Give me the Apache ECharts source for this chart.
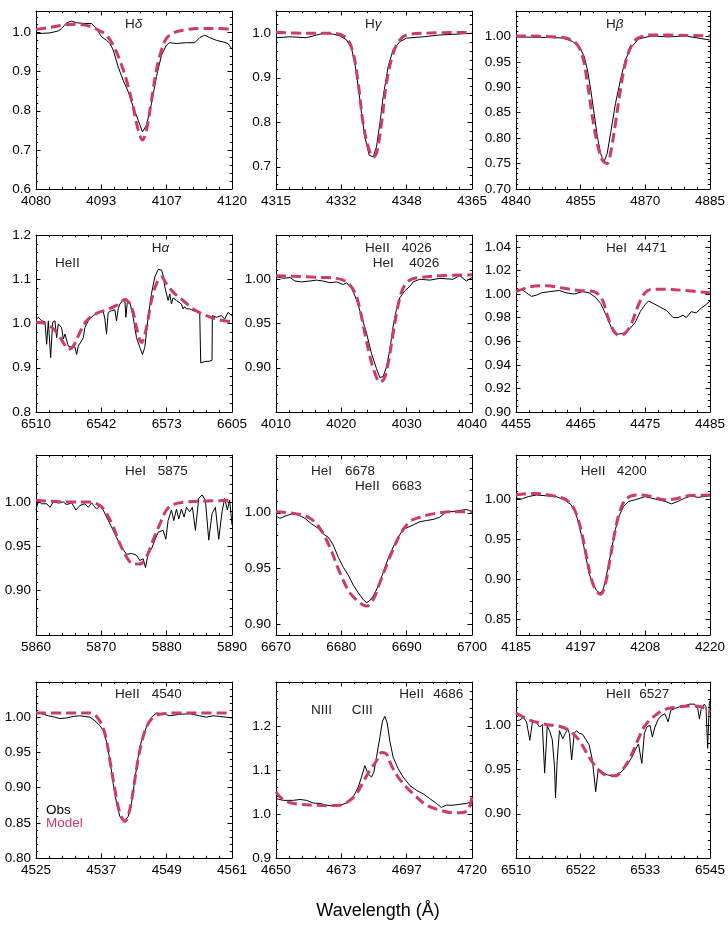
<!DOCTYPE html>
<html><head><meta charset="utf-8">
<script src="https://cdn.jsdelivr.net/npm/echarts@6/dist/echarts.min.js"></script>
<style>html,body{margin:0;padding:0;background:#fff}#c{width:728px;height:950px}</style>
</head><body><div id="c"></div>
<script>
// ---------------- DATA (wavelength in Å, normalized flux) ----------------
const obsHd = [[4080.0,0.997],[4082.85,0.999],[4084.55,1.004],[4085.23,1.010],[4086.25,1.025],[4087.27,1.029],[4088.29,1.025],[4089.98,1.023],[4091.34,1.023],[4092.36,1.010],[4093.38,0.989],[4094.40,0.980],[4095.08,0.972],[4095.76,0.955],[4096.77,0.912],[4097.79,0.878],[4098.81,0.849],[4099.83,0.810],[4100.85,0.776],[4101.73,0.746],[4102.55,0.763],[4103.57,0.819],[4104.58,0.887],[4105.60,0.942],[4106.62,0.968],[4107.30,0.974],[4108.66,0.972],[4110.70,0.974],[4112.39,0.974],[4113.41,0.987],[4114.43,0.993],[4115.45,0.987],[4116.81,0.980],[4118.17,0.976],[4119.18,0.972],[4120.0,0.957]];
const modHd = [[4080.0,1.008],[4082.85,1.013],[4086.25,1.020],[4088.29,1.021],[4091.0,1.016],[4093.04,1.004],[4094.40,0.993],[4095.76,0.968],[4097.11,0.929],[4098.47,0.878],[4099.83,0.810],[4100.85,0.751],[4101.73,0.725],[4102.55,0.751],[4103.57,0.827],[4104.58,0.904],[4105.60,0.955],[4106.62,0.985],[4107.98,0.999],[4110.02,1.006],[4113.41,1.010],[4116.81,1.010],[4120.0,1.009]];

const obsHg = [[4315.0,0.990],[4318.57,0.992],[4322.81,0.990],[4325.36,0.996],[4327.05,1.000],[4329.60,0.998],[4331.30,0.994],[4333.00,0.985],[4334.27,0.966],[4335.12,0.932],[4335.97,0.880],[4336.82,0.820],[4337.67,0.767],[4338.77,0.726],[4339.79,0.722],[4340.64,0.745],[4341.49,0.797],[4342.33,0.857],[4343.61,0.925],[4344.88,0.963],[4346.58,0.981],[4348.28,0.989],[4352.52,0.992],[4356.77,0.996],[4361.01,0.998],[4365.0,1.000]];
const modHg = [[4315.0,1.002],[4322.81,1.000],[4329.60,1.000],[4333.00,0.989],[4334.69,0.955],[4335.97,0.888],[4337.24,0.797],[4338.51,0.745],[4339.79,0.722],[4340.64,0.730],[4341.91,0.797],[4343.18,0.888],[4344.88,0.955],[4346.58,0.985],[4348.28,0.996],[4352.52,1.000],[4365.0,1.002]];

const obsHb = [[4840.0,0.999],[4847.03,0.998],[4850.85,0.997],[4853.14,0.990],[4854.67,0.980],[4855.81,0.961],[4856.58,0.934],[4857.34,0.895],[4858.11,0.849],[4858.87,0.803],[4859.63,0.770],[4860.40,0.753],[4861.16,0.770],[4861.93,0.809],[4863.07,0.868],[4864.22,0.914],[4865.36,0.954],[4866.89,0.980],[4868.42,0.995],[4871.47,1.001],[4875.29,0.999],[4879.11,1.001],[4885.0,0.993]];
const modHb = [[4840.0,1.001],[4850.85,0.998],[4853.90,0.987],[4855.43,0.961],[4856.58,0.908],[4857.72,0.842],[4858.87,0.789],[4860.02,0.757],[4861.16,0.750],[4861.93,0.770],[4863.07,0.829],[4864.22,0.895],[4865.36,0.947],[4866.89,0.984],[4868.42,0.997],[4871.47,1.003],[4885.0,1.001]];

const obsHa = [[6510.0,1.010],[6511.13,1.014],[6512.74,1.006],[6514.35,1.004],[6515.16,0.953],[6515.97,1.006],[6517.10,0.923],[6518.06,1.003],[6519.19,1.006],[6520.0,0.968],[6520.81,0.999],[6522.42,0.991],[6523.23,0.965],[6524.03,0.976],[6525.65,0.949],[6527.26,0.946],[6528.87,0.947],[6529.68,0.930],[6530.48,0.949],[6532.10,0.961],[6532.90,0.968],[6533.71,0.991],[6535.32,1.006],[6537.74,1.018],[6540.97,1.025],[6542.58,1.028],[6543.39,1.010],[6544.19,0.976],[6545.0,1.025],[6546.61,1.029],[6548.23,1.031],[6549.03,1.006],[6549.84,1.033],[6550.65,1.044],[6551.94,1.051],[6553.06,1.054],[6553.55,1.014],[6554.35,1.052],[6555.48,1.048],[6557.10,1.014],[6558.71,0.968],[6560.32,0.946],[6561.61,0.930],[6562.74,0.946],[6564.35,1.014],[6565.97,1.067],[6567.58,1.105],[6569.19,1.122],[6570.81,1.121],[6571.61,1.109],[6572.42,1.083],[6573.23,1.079],[6574.03,1.052],[6574.84,1.067],[6575.65,1.044],[6576.45,1.058],[6578.06,1.052],[6580.48,1.044],[6581.29,1.033],[6582.10,1.038],[6582.90,1.033],[6584.52,1.033],[6586.13,1.029],[6589.35,1.025],[6589.84,0.911],[6591.77,0.914],[6594.19,0.915],[6595.32,0.917],[6595.48,1.018],[6597.42,1.014],[6599.84,1.018],[6601.45,1.010],[6603.06,1.025],[6605.0,1.018]];
const modHa = [[6510.0,1.003],[6515.16,0.999],[6520.0,0.980],[6523.23,0.957],[6525.65,0.942],[6528.06,0.949],[6531.29,0.980],[6534.52,1.006],[6539.35,1.023],[6544.19,1.031],[6549.03,1.041],[6553.06,1.054],[6556.29,1.037],[6558.71,0.991],[6561.13,0.957],[6563.55,0.991],[6565.97,1.052],[6568.39,1.090],[6570.81,1.105],[6573.23,1.090],[6576.45,1.071],[6581.29,1.052],[6586.13,1.033],[6592.58,1.018],[6599.03,1.008],[6605.0,1.004]];

const obsHe4026 = [[4010.0,1.003],[4011.12,1.001],[4012.14,1.002],[4012.90,0.998],[4013.92,0.997],[4015.20,0.998],[4016.21,0.999],[4017.23,0.998],[4018.25,0.996],[4019.27,0.997],[4020.29,0.994],[4020.80,0.996],[4021.56,0.990],[4022.33,0.977],[4023.09,0.958],[4023.86,0.939],[4024.62,0.916],[4025.38,0.899],[4025.89,0.889],[4026.40,0.890],[4026.91,0.901],[4027.42,0.920],[4027.93,0.947],[4028.44,0.966],[4028.95,0.979],[4029.71,0.987],[4030.48,0.992],[4030.99,0.997],[4032.01,1.000],[4033.54,0.999],[4035.06,1.001],[4037.10,1.000],[4038.12,1.004],[4039.14,0.998],[4040.0,1.002]];
const modHe4026 = [[4010.0,1.004],[4017.23,1.002],[4019.27,1.001],[4020.80,0.997],[4022.07,0.985],[4022.84,0.966],[4023.60,0.939],[4024.37,0.913],[4025.13,0.894],[4025.89,0.884],[4026.51,0.887],[4027.17,0.905],[4027.93,0.939],[4028.70,0.971],[4029.46,0.990],[4030.48,0.999],[4032.01,1.002],[4035.06,1.004],[4040.0,1.005]];

const obsHe4471 = [[4455.0,1.003],[4455.87,1.004],[4456.63,1.001],[4457.39,0.998],[4458.16,0.999],[4458.92,1.001],[4460.20,1.002],[4461.72,1.003],[4462.74,1.001],[4464.02,1.000],[4465.29,1.002],[4466.31,1.001],[4467.33,0.997],[4468.09,0.992],[4468.86,0.983],[4469.47,0.975],[4470.13,0.967],[4470.89,0.966],[4471.81,0.967],[4472.68,0.971],[4473.44,0.976],[4474.21,0.985],[4474.97,0.991],[4475.48,0.994],[4476.24,0.992],[4477.26,0.989],[4478.28,0.986],[4479.30,0.980],[4480.06,0.980],[4480.83,0.982],[4481.34,0.980],[4482.10,0.985],[4482.87,0.984],[4483.63,0.988],[4484.39,0.991],[4485.0,0.994]];
const modHe4471 = [[4455.0,1.002],[4457.14,1.006],[4459.69,1.007],[4462.23,1.005],[4464.78,1.003],[4467.07,1.002],[4468.35,0.995],[4469.11,0.982],[4469.88,0.971],[4470.89,0.965],[4471.91,0.967],[4472.93,0.976],[4473.95,0.991],[4474.97,1.001],[4475.99,1.004],[4478.03,1.004],[4481.08,1.003],[4485.0,1.001]];

const obsHe5875 = [[5860.0,0.991],[5860.36,1.001],[5860.87,0.998],[5861.63,0.998],[5862.14,0.994],[5862.65,1.000],[5863.41,0.999],[5864.18,1.000],[5864.69,0.997],[5865.45,0.999],[5866.11,0.991],[5866.72,0.996],[5867.49,0.998],[5868.0,0.994],[5868.51,0.999],[5869.27,0.992],[5869.78,0.996],[5870.29,0.991],[5870.80,0.983],[5871.56,0.972],[5872.33,0.960],[5873.09,0.949],[5873.86,0.941],[5874.62,0.942],[5875.38,0.940],[5875.89,0.934],[5876.40,0.936],[5876.76,0.926],[5877.17,0.942],[5877.68,0.947],[5878.19,0.957],[5878.70,0.966],[5879.46,0.968],[5879.87,0.958],[5880.22,0.979],[5880.73,0.991],[5881.09,0.979],[5881.50,0.992],[5881.85,0.981],[5882.26,0.992],[5882.67,0.983],[5883.03,0.994],[5883.54,0.989],[5883.94,0.994],[5884.40,0.968],[5884.91,1.004],[5885.42,1.008],[5885.93,1.002],[5886.44,0.957],[5886.95,0.987],[5887.46,0.994],[5887.97,0.958],[5888.48,0.989],[5888.88,1.004],[5889.29,0.991],[5889.65,1.002],[5890.0,0.974]];
const modHe5875 = [[5860.0,1.002],[5864.69,1.000],[5868.25,1.000],[5869.78,0.996],[5870.80,0.987],[5871.82,0.972],[5872.84,0.953],[5873.86,0.938],[5874.88,0.930],[5875.89,0.930],[5876.91,0.938],[5877.93,0.957],[5878.95,0.975],[5879.97,0.991],[5880.99,0.997],[5883.03,1.000],[5886.08,1.001],[5890.0,1.002]];

const obsHe6678 = [[6670.0,0.997],[6670.61,0.995],[6671.38,0.997],[6672.39,0.999],[6673.41,0.998],[6674.43,0.995],[6675.45,0.990],[6676.47,0.986],[6677.23,0.981],[6678.0,0.978],[6678.76,0.971],[6679.53,0.960],[6680.29,0.951],[6681.05,0.944],[6681.82,0.935],[6682.58,0.928],[6683.35,0.922],[6683.86,0.919],[6684.37,0.921],[6684.88,0.925],[6685.64,0.934],[6686.40,0.946],[6687.17,0.959],[6687.93,0.969],[6688.70,0.978],[6689.46,0.985],[6690.22,0.987],[6690.99,0.989],[6692.01,0.992],[6693.03,0.993],[6694.04,0.994],[6695.06,0.996],[6696.08,1.001],[6697.10,1.001],[6698.12,1.002],[6699.14,1.003],[6700.0,1.001]];
const modHe6678 = [[6670.0,1.001],[6673.16,0.999],[6675.20,0.995],[6676.72,0.986],[6678.25,0.969],[6679.78,0.946],[6681.31,0.928],[6682.84,0.919],[6683.86,0.916],[6684.88,0.922],[6685.89,0.937],[6687.42,0.960],[6688.95,0.980],[6690.48,0.992],[6692.01,0.996],[6694.04,0.999],[6697.10,1.001],[6700.0,1.001]];

const obsHe4200 = [[4185.0,1.001],[4186.01,1.000],[4187.20,1.003],[4188.68,1.005],[4190.47,1.004],[4192.25,1.003],[4193.73,0.999],[4194.92,0.993],[4195.81,0.982],[4196.41,0.966],[4197.0,0.949],[4197.60,0.928],[4198.19,0.907],[4198.78,0.895],[4199.50,0.886],[4200.09,0.882],[4200.69,0.886],[4201.16,0.899],[4201.76,0.920],[4202.35,0.941],[4202.94,0.962],[4203.54,0.978],[4204.43,0.991],[4205.32,0.997],[4206.51,0.999],[4208.29,1.003],[4209.48,1.001],[4210.67,0.999],[4211.86,0.997],[4213.05,0.994],[4214.23,0.997],[4215.42,1.001],[4216.61,1.004],[4217.80,1.002],[4220.0,1.004]];
const modHe4200 = [[4185.0,1.005],[4188.09,1.007],[4191.65,1.004],[4194.03,0.999],[4195.52,0.987],[4196.71,0.962],[4197.60,0.932],[4198.49,0.903],[4199.38,0.886],[4200.27,0.881],[4201.16,0.895],[4202.05,0.928],[4202.94,0.962],[4203.84,0.987],[4205.02,1.001],[4207.10,1.005],[4209.48,1.003],[4211.86,0.999],[4213.64,1.000],[4216.02,1.004],[4220.0,1.005]];

const obsHe4540 = [[4525.0,1.007],[4526.04,1.005],[4527.26,1.002],[4528.48,1.000],[4529.40,0.998],[4530.62,0.999],[4531.85,1.001],[4533.07,1.002],[4533.99,1.001],[4534.90,1.000],[4535.82,0.995],[4536.74,0.988],[4537.35,0.981],[4537.96,0.965],[4538.57,0.939],[4539.18,0.906],[4539.79,0.878],[4540.40,0.859],[4541.14,0.851],[4541.93,0.859],[4542.54,0.878],[4543.15,0.911],[4543.77,0.944],[4544.38,0.967],[4545.29,0.986],[4546.21,1.000],[4547.13,1.006],[4548.35,1.005],[4549.57,1.002],[4551.41,1.004],[4553.24,1.005],[4555.07,1.002],[4556.30,1.000],[4557.52,1.002],[4558.74,1.001],[4559.96,1.000],[4561.0,0.999]];
const modHe4540 = [[4525.0,1.006],[4530.62,1.006],[4534.90,1.006],[4536.43,0.998],[4537.65,0.977],[4538.57,0.939],[4539.49,0.897],[4540.40,0.864],[4541.32,0.852],[4542.24,0.869],[4543.15,0.911],[4544.07,0.953],[4545.29,0.986],[4546.52,1.000],[4547.74,1.004],[4550.18,1.006],[4555.07,1.006],[4561.0,1.006]];

const obsHe4686 = [[4650.0,1.035],[4652.61,1.031],[4656.18,1.031],[4658.56,1.033],[4660.93,1.031],[4662.12,1.028],[4663.31,1.025],[4665.69,1.024],[4668.06,1.020],[4670.44,1.018],[4672.82,1.020],[4675.20,1.025],[4677.58,1.039],[4679.36,1.061],[4680.54,1.084],[4681.73,1.110],[4682.92,1.091],[4684.11,1.084],[4684.94,1.095],[4685.89,1.129],[4687.08,1.174],[4688.03,1.211],[4688.86,1.222],[4689.70,1.207],[4690.65,1.166],[4691.84,1.129],[4693.62,1.103],[4695.40,1.084],[4697.78,1.065],[4700.15,1.054],[4702.53,1.046],[4704.91,1.035],[4707.29,1.024],[4709.07,1.015],[4710.85,1.020],[4713.23,1.020],[4715.60,1.022],[4717.98,1.024],[4720.0,1.028]];
const modHe4686 = [[4650.0,1.050],[4651.43,1.039],[4653.80,1.028],[4658.56,1.022],[4663.31,1.020],[4668.06,1.019],[4672.82,1.020],[4676.38,1.031],[4678.76,1.046],[4681.14,1.073],[4683.52,1.099],[4685.89,1.121],[4687.68,1.140],[4689.46,1.136],[4691.24,1.110],[4693.62,1.084],[4696.59,1.061],[4700.15,1.039],[4703.72,1.020],[4708.47,1.009],[4713.23,1.003],[4716.20,1.003],[4718.58,1.009],[4720.0,1.039]];

const obsHe6527 = [[6510.0,1.005],[6510.71,1.006],[6511.31,1.009],[6511.90,1.004],[6512.50,0.983],[6512.97,1.004],[6513.68,1.003],[6514.28,0.998],[6514.75,1.001],[6515.17,0.946],[6515.64,0.999],[6516.06,0.994],[6516.54,0.984],[6516.95,0.953],[6517.13,0.918],[6517.43,0.960],[6517.84,0.994],[6518.44,0.985],[6518.91,0.991],[6519.33,0.996],[6519.63,0.991],[6520.04,0.961],[6520.52,0.991],[6520.93,0.994],[6521.41,0.991],[6522.0,0.990],[6522.60,0.984],[6523.19,0.978],[6523.78,0.961],[6524.38,0.925],[6524.85,0.951],[6525.27,0.949],[6525.86,0.946],[6526.46,0.944],[6527.35,0.943],[6528.24,0.944],[6529.13,0.948],[6530.02,0.955],[6530.92,0.964],[6531.51,0.972],[6532.10,0.979],[6532.70,0.957],[6533.17,0.991],[6533.59,0.998],[6534.18,1.000],[6534.60,0.987],[6535.07,0.998],[6535.67,1.007],[6536.26,1.011],[6536.86,1.013],[6537.45,1.004],[6537.93,1.017],[6538.64,1.019],[6539.53,1.021],[6540.42,1.022],[6541.31,1.024],[6542.20,1.024],[6542.80,1.019],[6543.10,1.007],[6543.39,1.018],[6543.99,1.024],[6544.28,1.021],[6544.58,0.974],[6544.88,1.025],[6545.0,1.028]];
const modHe6527 = [[6510.0,1.014],[6512.50,1.006],[6515.47,1.001],[6517.84,0.999],[6519.63,0.994],[6521.41,0.983],[6523.19,0.964],[6524.97,0.949],[6526.76,0.943],[6527.94,0.943],[6529.13,0.949],[6530.62,0.964],[6532.10,0.985],[6533.29,1.000],[6535.07,1.011],[6536.86,1.018],[6539.23,1.021],[6541.61,1.022],[6543.39,1.021],[6545.0,1.015]];

const obsAll = [obsHd, obsHg, obsHb, obsHa, obsHe4026, obsHe4471, obsHe5875, obsHe6678, obsHe4200, obsHe4540, obsHe4686, obsHe6527];
const modAll = [modHd, modHg, modHb, modHa, modHe4026, modHe4471, modHe5875, modHe6678, modHe4200, modHe4540, modHe4686, modHe6527];

// tick labels
const xTickLabels = [
  ['4080','4093','4107','4120'], ['4315','4332','4348','4365'], ['4840','4855','4870','4885'],
  ['6510','6542','6573','6605'], ['4010','4020','4030','4040'], ['4455','4465','4475','4485'],
  ['5860','5870','5880','5890'], ['6670','6680','6690','6700'], ['4185','4197','4208','4220'],
  ['4525','4537','4549','4561'], ['4650','4673','4697','4720'], ['6510','6522','6533','6545']];
const yTickLabels = [
  ['0.6','0.7','0.8','0.9','1.0'], ['0.7','0.8','0.9','1.0'], ['0.70','0.75','0.80','0.85','0.90','0.95','1.00'],
  ['0.8','0.9','1.0','1.1','1.2'], ['0.90','0.95','1.00'], ['0.90','0.92','0.94','0.96','0.98','1.00','1.02','1.04'],
  ['0.90','0.95','1.00'], ['0.90','0.95','1.00'], ['0.85','0.90','0.95','1.00'],
  ['0.80','0.85','0.90','0.95','1.00'], ['0.9','1.0','1.1','1.2'], ['0.90','0.95','1.00']];
// axis extents (flux)
const yMinVals = [0.6, 0.65, 0.70, 0.8, 0.85, 0.90, 0.85, 0.89, 0.83, 0.80, 0.9, 0.85];
const yMaxVals = [1.055, 1.05, 1.05, 1.2, 1.05, 1.05, 1.053, 1.052, 1.055, 1.05, 1.3, 1.049];

// annotation texts
const lineLabels = ['Hδ','Hγ','Hβ','HeII','Hα','HeII','4026','HeI','4026','HeI','4471','HeI','5875','HeI','6678','HeII','6683','HeII','4200','HeII','4540','HeII','4686','NIII','CIII','HeII','6527'];
const legendLabels = ['Obs','Model'];
const axisTitle = 'Wavelength (Å)';

// ---------------- LAYOUT / STYLE ----------------
const FONT = '"Liberation Sans", Arial, Helvetica, sans-serif';
const MODEL_COLOR = '#cf3a6b';
const colLeft = [36, 276, 516], colW = 196;
const rowTop = [11, 235, 455, 682], rowH = [178, 177, 180, 176];
const labelPos = [[125,24.5],[365,24.5],[606,24.5],[55,263.3],[151.7,248.5],[365,248.3],[401.7,248.3],[372.7,263.3],[409.3,263.3],[606,248.3],[636.7,248.3],[125,471],[157.7,471],[311,471.7],[345,471.7],[355,486.7],[391.7,486.7],[580.7,471.7],[616.7,471.7],[115,694.7],[151.7,694.7],[399.3,694.3],[433.3,694.3],[311,710],[351.7,710],[606,694.3],[639.3,694.3]];
const legendPos = [[46,810],[46,823.3]];

function seq(a, b, step) {
  const out = [];
  const n0 = Math.ceil(a / step - 1e-6), n1 = Math.floor(b / step + 1e-6);
  for (let n = n0; n <= n1; n++) out.push(+(n * step).toFixed(6));
  return out;
}
function ax(gi, pos, min, max, ticks, len, line, labels) {
  return {
    type: 'value', gridIndex: gi, position: pos, min: min, max: max,
    axisLine: { show: line, onZero: false, lineStyle: { color: '#000', width: 1 } },
    axisTick: { show: true, inside: true, length: len, customValues: ticks, lineStyle: { color: '#000', width: 1 } },
    axisLabel: labels ? {
      show: true, customValues: ticks, margin: 5, color: '#000', fontSize: 13.5, fontFamily: FONT,
      showMinLabel: true, showMaxLabel: true, hideOverlap: false,
      formatter: function (v) {
        let best = 0;
        for (let i = 0; i < ticks.length; i++) if (Math.abs(ticks[i] - v) < Math.abs(ticks[best] - v)) best = i;
        return labels[best];
      }
    } : { show: false },
    splitLine: { show: false }, minorTick: { show: false }, minorSplitLine: { show: false }
  };
}

const grid = [], xAxis = [], yAxis = [], series = [];
for (let p = 0; p < 12; p++) {
  const r = Math.floor(p / 3), c = p % 3;
  grid.push({ left: colLeft[c], top: rowTop[r], width: colW, height: rowH[r] });
  const xl = xTickLabels[p].map(Number);
  const xmin = xl[0], xmax = xl[3], d = (xmax - xmin) / 3;
  const xMaj = [0, 1, 2, 3].map(i => xmin + i * d);
  const xMinor = [];
  for (let k = 1; k < 15; k++) if (k % 5) xMinor.push(xmin + k * d / 5);
  const ymin = yMinVals[p], ymax = yMaxVals[p];
  const yl = yTickLabels[p].map(Number);
  const ystep = +(yl[1] - yl[0]).toFixed(4);
  const div = Math.abs(ystep - 0.02) < 1e-6 ? 4 : 5;
  const yMinor = seq(ymin, ymax, ystep / div);
  const bx = xAxis.length, by = yAxis.length;
  xAxis.push(ax(p, 'bottom', xmin, xmax, xMaj, 4.5, true, xTickLabels[p]));
  xAxis.push(ax(p, 'bottom', xmin, xmax, xMinor, 2.2, false, null));
  xAxis.push(ax(p, 'top', xmin, xmax, xMaj, 4.5, true, null));
  xAxis.push(ax(p, 'top', xmin, xmax, xMinor, 2.2, false, null));
  yAxis.push(ax(p, 'left', ymin, ymax, yl, 4.5, true, yTickLabels[p]));
  yAxis.push(ax(p, 'left', ymin, ymax, yMinor, 2.2, false, null));
  yAxis.push(ax(p, 'right', ymin, ymax, yl, 4.5, true, null));
  yAxis.push(ax(p, 'right', ymin, ymax, yMinor, 2.2, false, null));
  series.push({
    type: 'line', xAxisIndex: bx, yAxisIndex: by, data: obsAll[p], showSymbol: false, symbol: 'none',
    lineStyle: { color: '#000', width: 1 }, z: 2, silent: true
  });
  series.push({
    type: 'line', xAxisIndex: bx, yAxisIndex: by, data: modAll[p], showSymbol: false, symbol: 'none', smooth: 0.35,
    lineStyle: { color: MODEL_COLOR, width: 3, type: [10, 5] }, z: 3, silent: true
  });
}

const graphic = [];
function greek(t) { return t.length === 2 && t[0] === 'H' && /[αβγδ]/.test(t[1]); }
lineLabels.forEach((t, i) => {
  const pos = labelPos[i];
  const st = { fill: '#222', font: '13.5px ' + FONT, align: 'left', verticalAlign: 'middle' };
  if (greek(t)) {
    st.text = '{a|H}{b|' + t[1] + '}';
    st.rich = { a: { fontSize: 13.5, fontFamily: FONT, fill: '#222' }, b: { fontSize: 13.5, fontFamily: FONT, fontStyle: 'italic', fill: '#222' } };
  } else st.text = t;
  graphic.push({ type: 'text', x: pos[0], y: pos[1], style: st, silent: true });
});
legendLabels.forEach((t, i) => {
  graphic.push({ type: 'text', x: legendPos[i][0], y: legendPos[i][1], silent: true,
    style: { text: t, fill: i === 0 ? '#000' : MODEL_COLOR, font: '13.5px ' + FONT, align: 'left', verticalAlign: 'middle' } });
});
graphic.push({ type: 'text', x: 378, y: 911, silent: true,
  style: { text: axisTitle, fill: '#000', font: '18px ' + FONT, align: 'center', verticalAlign: 'middle' } });

const chart = echarts.init(document.getElementById('c'), null, { renderer: 'canvas' });
chart.setOption({ animation: false, backgroundColor: '#fff', grid, xAxis, yAxis, series, graphic });
</script></body></html>
